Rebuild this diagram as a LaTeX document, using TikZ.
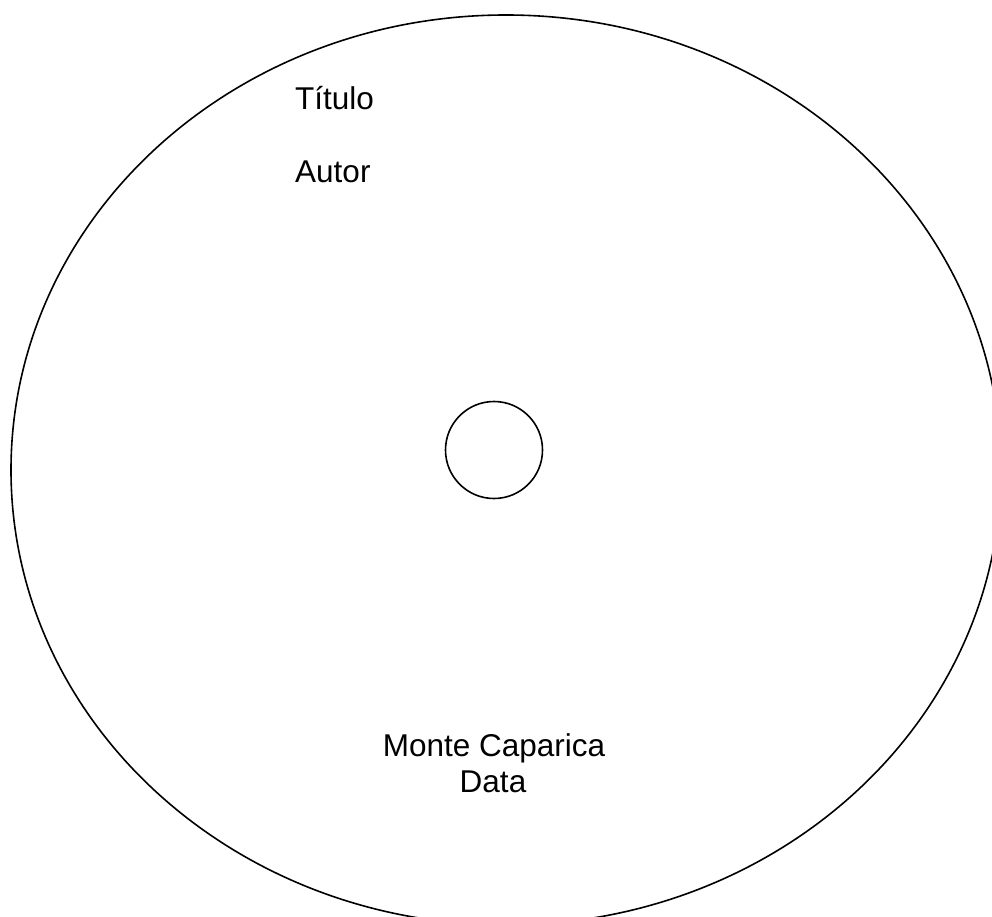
\documentclass[tikz,border=0pt]{standalone}
\usepackage{fontspec}
\setmainfont{Liberation Sans}
\begin{document}
\begin{tikzpicture}[x=1pt,y=-1pt,
  disc/.style={line width=1.6pt, draw=black},
  label/.style={inner sep=0pt, font=\fontsize{31.5}{36}\selectfont}]
\useasboundingbox (0,0) rectangle (992,917);
\begin{scope}
\clip (0,0) rectangle (992,917);
\draw[disc] (506,470) ellipse [x radius=495, y radius=455];
\end{scope}
\draw[disc] (494,450) circle [radius=48.5];
\node[label, anchor=base west] (titulo) at (295,110) {Título};
\node[label, anchor=base west] (autor) at (295,183) {Autor};
\node[label, anchor=base] (local) at (494,756) {Monte Caparica};
\node[label, anchor=base] (data) at (493,792) {Data};
\end{tikzpicture}
\end{document}
